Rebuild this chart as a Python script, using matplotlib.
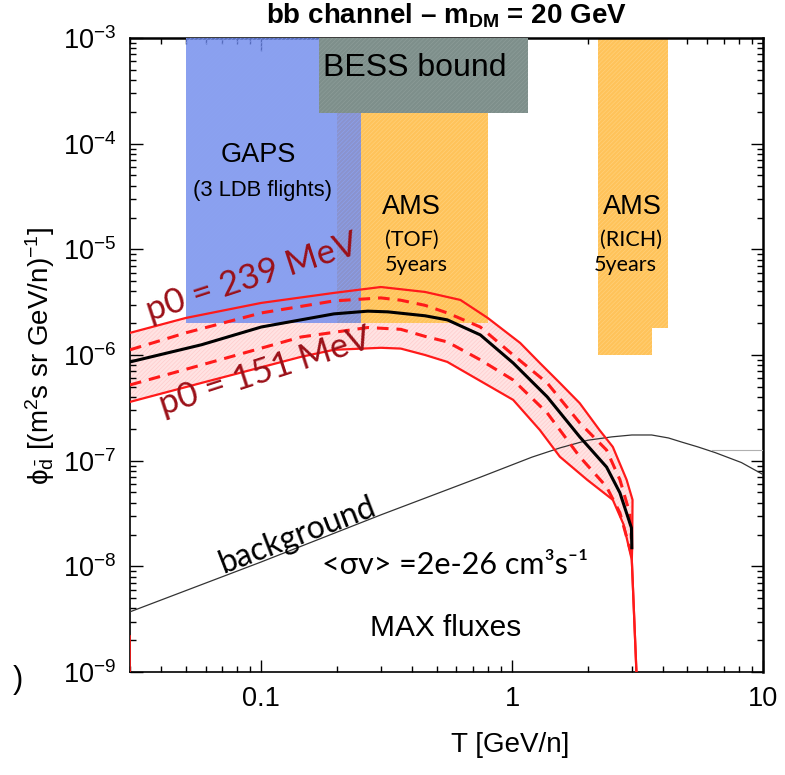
import numpy as np
import matplotlib
matplotlib.use("Agg")
import matplotlib.pyplot as plt
from matplotlib.ticker import LogLocator, FixedLocator, FixedFormatter, NullFormatter

plt.rcParams['font.family'] = ['Liberation Sans', 'DejaVu Sans']
plt.rcParams['mathtext.fontset'] = 'custom'
plt.rcParams['mathtext.rm'] = 'Liberation Sans'
plt.rcParams['mathtext.it'] = 'Liberation Sans:italic'
plt.rcParams['mathtext.bf'] = 'Liberation Sans:bold'
plt.rcParams['hatch.linewidth'] = 0.5

# flux curves (T in GeV/n, flux in (m^2 s sr GeV/n)^-1)
up_x = [0.03, 0.05, 0.1, 0.195, 0.3, 0.45, 0.622, 0.8, 1.077, 1.29, 1.55, 1.86, 2.23, 2.52,
        2.86, 3.02, 3.01, 3.0, 3.13]
up_y = [1.62e-6, 2.24e-6, 3.11e-6, 3.87e-6, 4.4e-6, 3.95e-6, 3.32e-6, 2.24e-6, 1.30e-6, 8.4e-7,
        5.44e-7, 3.5e-7, 1.95e-7, 1.35e-7, 6.6e-8, 4.26e-8, 1.5e-8, 1.15e-8, 1e-9]

lo_x = [0.03, 0.0578, 0.144, 0.195, 0.3, 0.36, 0.45, 0.552, 1.01, 1.29, 1.55, 1.99, 2.52, 2.78,
        3.0, 3.13]
lo_y = [3.60e-7, 5.44e-7, 9.6e-7, 1.12e-6, 1.17e-6, 1.15e-6, 1.0e-6, 8.6e-7, 3.76e-7, 1.95e-7,
        1.09e-7, 6.6e-8, 4.26e-8, 2.5e-8, 1.15e-8, 1e-9]

dash_up_x = [0.03, 0.05, 0.1, 0.195, 0.3, 0.36, 0.45, 0.552, 0.747, 1.01, 1.38, 1.86, 2.38,
             2.69, 2.94, 2.99]
dash_up_y = [1.12e-6, 1.62e-6, 2.50e-6, 3.25e-6, 3.47e-6, 3.3e-6, 2.95e-6, 2.50e-6, 1.84e-6,
             1.0e-6, 5.44e-7, 2.28e-7, 1.26e-7, 6.6e-8, 3.21e-8, 1.8e-8]

dash_lo_x = [0.03, 0.0578, 0.144, 0.266, 0.36, 0.45, 0.552, 0.747, 1.01, 1.38, 1.86, 2.38, 2.69,
             2.99]
dash_lo_y = [5.21e-7, 8.05e-7, 1.48e-6, 1.82e-6, 1.75e-6, 1.5e-6, 1.33e-6, 9.0e-7, 5.8e-7,
             2.83e-7, 1.09e-7, 5.65e-8, 3.21e-8, 1.3e-8]

mid_x = [0.03, 0.0578, 0.1, 0.195, 0.266, 0.32, 0.45, 0.552, 0.747, 1.01, 1.38, 1.86, 2.38, 2.69,
         2.99, 3.0]
mid_y = [8.6e-7, 1.25e-6, 1.84e-6, 2.45e-6, 2.6e-6, 2.56e-6, 2.35e-6, 2.15e-6, 1.55e-6, 8.4e-7,
         4.02e-7, 1.68e-7, 8.7e-8, 4.96e-8, 2.31e-8, 1.5e-8]

bkg_x = [0.03, 0.1, 0.3, 0.75, 1.2, 1.55, 2.0, 2.5, 3.0, 3.6, 4.2, 4.74, 5.5, 6.46, 8.2, 10.0]
bkg_y = [3.71e-9, 1.1e-8, 3.07e-8, 7.0e-8, 1.08e-7, 1.32e-7, 1.56e-7, 1.68e-7, 1.75e-7, 1.75e-7,
         1.64e-7, 1.5e-7, 1.35e-7, 1.19e-7, 9.6e-8, 7.4e-8]

ref_x = [6.28, 10.0]
ref_y = [1.26e-7, 1.26e-7]

edge_x = [0.03, 0.03]
edge_y = [1e-9, 2.2e-9]

# experiment sensitivity regions
gaps_x = [0.05, 0.25]
gaps_y = [2e-6, 1e-3]
tof_x = [0.2, 0.8]
tof_y = [2e-6, 1e-3]
bess_x = [0.17, 1.16]
bess_y = [1.95e-4, 1e-3]
rich_x = [2.2, 3.6, 4.2]
rich_lo = [1e-6, 1.8e-6, 1.8e-6]
rich_top = 1e-3

fig = plt.figure(figsize=(7.85, 7.75), dpi=100)
ax = fig.add_axes([130/785, 103/775, 633/785, 634/775])
ax.set_xscale('log')
ax.set_yscale('log')
ax.set_xlim(0.03, 10)
ax.set_ylim(1e-9, 1e-3)

# band
ax.fill(np.concatenate([up_x, lo_x[::-1]]), np.concatenate([up_y, lo_y[::-1]]),
        facecolor='#ffe3e3', edgecolor='#ffcccc', hatch='////////', lw=0, zorder=1)

ax.fill_between(tof_x, tof_y[0], tof_y[1], facecolor='#ffc35a', edgecolor='#ffd07a',
                hatch='////////', lw=0, zorder=2)
ax.fill_between(rich_x, rich_lo, rich_top, step='post', facecolor='#ffc35a', edgecolor='#ffd07a',
                hatch='////////', lw=0, zorder=2)
ax.fill_between(gaps_x, gaps_y[0], gaps_y[1], facecolor='#6d88ec', edgecolor='#8aa2f2',
                hatch='////////', lw=0, alpha=0.8, zorder=3)
ax.fill_between(bess_x, bess_y[0], bess_y[1], facecolor='#7e8f8b', edgecolor='#8c9c98',
                hatch='////////', lw=0, zorder=4)

ax.plot(bkg_x, bkg_y, color='#333333', lw=0.9, zorder=5)
ax.plot(ref_x, ref_y, color='#b0b0b0', lw=0.8, zorder=5)
ax.plot(up_x, up_y, color='#ff1a1a', lw=1.6, zorder=6)
ax.plot(lo_x, lo_y, color='#ff1a1a', lw=1.6, zorder=6)
ax.plot(dash_up_x, dash_up_y, color='#ff1a1a', lw=2.2, dashes=(3.8, 2.6), zorder=6)
ax.plot(dash_lo_x, dash_lo_y, color='#ff1a1a', lw=2.2, dashes=(3.8, 2.6), zorder=6)
ax.plot(mid_x, mid_y, color='black', lw=2.2, zorder=7)
ax.plot(edge_x, edge_y, color='#ff1a1a', lw=1.2, zorder=6)

# ticks
ax.xaxis.set_major_locator(FixedLocator([0.1, 1, 10]))
ax.xaxis.set_major_formatter(FixedFormatter(['0.1', '1', '10']))
ax.xaxis.set_minor_locator(LogLocator(base=10, subs=np.arange(2, 10), numticks=20))
ax.xaxis.set_minor_formatter(NullFormatter())
ax.yaxis.set_major_locator(LogLocator(base=10, numticks=10))
ax.yaxis.set_minor_locator(LogLocator(base=10, subs=np.arange(2, 10), numticks=20))
ax.yaxis.set_minor_formatter(NullFormatter())
ax.tick_params(which='both', direction='in', top=True, right=True, width=1.0, labelsize=19.5)
ax.tick_params(which='major', length=9, pad=10)
ax.tick_params(which='minor', length=4.5)
for s in ax.spines.values():
    s.set_linewidth(1.2)
for sp in ['top', 'right']:
    ax.spines[sp].set_linewidth(1.8)

# labels
fig.text(446/785, 1 - 16/775, r'bb channel – m$_\mathbf{DM}$ = 20 GeV', ha='center', va='center',
         fontsize=20, fontweight='bold')
fig.text(40/785, 1 - 356/775, r'ϕ$_{\bar{\mathrm{d}}}$ [(m$^2$s sr GeV/n)$^{-1}$]', rotation=90,
         ha='center', va='center', fontsize=20)
fig.text(510/785, 1 - 745/775, 'T [GeV/n]', ha='center', va='center', fontsize=20)
fig.text(18/785, 1 - 680/775, ')', ha='center', va='center', fontsize=22)

T = ax.transAxes
gill = ['Lato', 'DejaVu Sans']
ax.text(0.450, 0.953, 'BESS bound', transform=T, ha='center', va='center', fontsize=23, zorder=8)
ax.text(0.202, 0.815, 'GAPS', transform=T, ha='center', va='center', fontsize=19.5, zorder=8)
ax.text(0.209, 0.760, '(3 LDB flights)', transform=T, ha='center', va='center', fontsize=15.8, zorder=8)
ax.text(0.445, 0.733, 'AMS', transform=T, ha='center', va='center', fontsize=19.5, zorder=8)
ax.text(0.403, 0.681, '(TOF)', transform=T, ha='left', va='center', fontsize=15.5, family=gill, zorder=8)
ax.text(0.403, 0.642, '5years', transform=T, ha='left', va='center', fontsize=15.5, family=gill, zorder=8)
ax.text(0.793, 0.733, 'AMS', transform=T, ha='center', va='center', fontsize=19.5, zorder=8)
ax.text(0.742, 0.681, '(RICH)', transform=T, ha='left', va='center', fontsize=15.5, family=gill, zorder=8)
ax.text(0.733, 0.642, '5years', transform=T, ha='left', va='center', fontsize=15.5, family=gill, zorder=8)

ax.text(0.193, 0.622, 'p0 = 239 MeV', transform=T, ha='center', va='center', rotation=18,
        fontsize=25, color='#9b1018', family=gill, zorder=8)
ax.text(0.213, 0.474, 'p0 = 151 MeV', transform=T, ha='center', va='center', rotation=18,
        fontsize=25, color='#9b1018', family=gill, zorder=8)
ax.text(0.265, 0.216, 'background', transform=T, ha='center', va='center', rotation=21,
        fontsize=23, family=gill, zorder=8)
ax.text(0.513, 0.169, '<σv> =2e-26 cm³s⁻¹', transform=T, ha='center', va='center',
        fontsize=22, family=gill, zorder=8)
ax.text(0.498, 0.069, 'MAX fluxes', transform=T, ha='center', va='center', fontsize=21.5, zorder=8)

fig.savefig('out.png', dpi=100)
